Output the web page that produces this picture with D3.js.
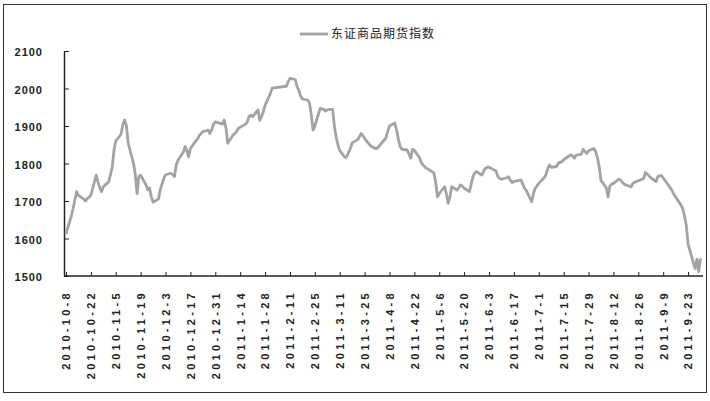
<!DOCTYPE html>
<meta charset="utf-8">
<style>
body { margin: 0; background: #fff; }
svg text { font-family: "Liberation Sans", Arial, sans-serif; fill: #222; }
</style>
<body>
<script src="https://d3js.org/d3.v7.min.js"></script>
<script>

////*Data*////
const seriesName = "东证商品期货指数";

const tradeDates = [
  // 2010-10
  "2010-10-08","2010-10-11","2010-10-12","2010-10-13","2010-10-14","2010-10-15","2010-10-18","2010-10-19","2010-10-20","2010-10-21","2010-10-22","2010-10-25","2010-10-26","2010-10-27","2010-10-28","2010-10-29",
  // 2010-11
  "2010-11-01","2010-11-02","2010-11-03","2010-11-04","2010-11-05","2010-11-08","2010-11-09","2010-11-10","2010-11-11","2010-11-12","2010-11-15","2010-11-16","2010-11-17","2010-11-18","2010-11-19","2010-11-22","2010-11-23","2010-11-24","2010-11-25","2010-11-26","2010-11-29","2010-11-30",
  // 2010-12
  "2010-12-01","2010-12-02","2010-12-03","2010-12-06","2010-12-07","2010-12-08","2010-12-09","2010-12-10","2010-12-13","2010-12-14","2010-12-15","2010-12-16","2010-12-17","2010-12-20","2010-12-21","2010-12-22","2010-12-23","2010-12-24","2010-12-27","2010-12-28","2010-12-29","2010-12-30","2010-12-31",
  // 2011-01
  "2011-01-04","2011-01-05","2011-01-06","2011-01-07","2011-01-10","2011-01-11","2011-01-12","2011-01-13","2011-01-14","2011-01-17","2011-01-18","2011-01-19","2011-01-20","2011-01-21","2011-01-24","2011-01-25","2011-01-26","2011-01-27","2011-01-28","2011-01-31",
  // 2011-02
  "2011-02-01","2011-02-09","2011-02-10","2011-02-11","2011-02-14","2011-02-15","2011-02-16","2011-02-17","2011-02-18","2011-02-21","2011-02-22","2011-02-23","2011-02-24","2011-02-25","2011-02-28",
  // 2011-03
  "2011-03-01","2011-03-02","2011-03-03","2011-03-04","2011-03-07","2011-03-08","2011-03-09","2011-03-10","2011-03-11","2011-03-14","2011-03-15","2011-03-16","2011-03-17","2011-03-18","2011-03-21","2011-03-22","2011-03-23","2011-03-24","2011-03-25","2011-03-28","2011-03-29","2011-03-30","2011-03-31",
  // 2011-04
  "2011-04-01","2011-04-06","2011-04-07","2011-04-08","2011-04-11","2011-04-12","2011-04-13","2011-04-14","2011-04-15","2011-04-18","2011-04-19","2011-04-20","2011-04-21","2011-04-22","2011-04-25","2011-04-26","2011-04-27","2011-04-28","2011-04-29",
  // 2011-05
  "2011-05-03","2011-05-04","2011-05-05","2011-05-06","2011-05-09","2011-05-10","2011-05-11","2011-05-12","2011-05-13","2011-05-16","2011-05-17","2011-05-18","2011-05-19","2011-05-20","2011-05-23","2011-05-24","2011-05-25","2011-05-26","2011-05-27","2011-05-30","2011-05-31",
  // 2011-06
  "2011-06-01","2011-06-02","2011-06-03","2011-06-07","2011-06-08","2011-06-09","2011-06-10","2011-06-13","2011-06-14","2011-06-15","2011-06-16","2011-06-17","2011-06-20","2011-06-21","2011-06-22","2011-06-23","2011-06-24","2011-06-27","2011-06-28","2011-06-29","2011-06-30",
  // 2011-07
  "2011-07-01","2011-07-04","2011-07-05","2011-07-06","2011-07-07","2011-07-08","2011-07-11","2011-07-12","2011-07-13","2011-07-14","2011-07-15","2011-07-18","2011-07-19","2011-07-20","2011-07-21","2011-07-22","2011-07-25","2011-07-26","2011-07-27","2011-07-28","2011-07-29",
  // 2011-08
  "2011-08-01","2011-08-02","2011-08-03","2011-08-04","2011-08-05","2011-08-08","2011-08-09","2011-08-10","2011-08-11","2011-08-12","2011-08-15","2011-08-16","2011-08-17","2011-08-18","2011-08-19","2011-08-22","2011-08-23","2011-08-24","2011-08-25","2011-08-26","2011-08-29","2011-08-30","2011-08-31",
  // 2011-09
  "2011-09-01","2011-09-02","2011-09-05","2011-09-06","2011-09-07","2011-09-08","2011-09-09","2011-09-13","2011-09-14","2011-09-15","2011-09-16","2011-09-19","2011-09-20","2011-09-21","2011-09-22","2011-09-23","2011-09-26","2011-09-27","2011-09-28","2011-09-29","2011-09-30"
];

const indexValues = [
  // 2010-10
  1612,1660,1680,1703,1725,1715,1705,1700,1707,1710,1716,1769,1751,1735,1725,1738,
  // 2010-11
  1751,1770,1790,1836,1860,1878,1905,1916,1900,1854,1800,1770,1720,1765,1769,1743,1730,1735,1711,1697,1705,1729,
  // 2010-12
  1745,1760,1770,1774,1770,1765,1796,1809,1830,1845,1835,1818,1840,1860,1865,1875,1880,1885,1889,1880,1890,1905,1911,
  // 2011-01
  1905,1916,1895,1854,1876,1880,1885,1894,1897,1905,1911,1925,1929,1925,1943,1915,1925,1938,1955,1987,
  // 2011-02
  2001,2006,2018,2027,2024,2005,1995,1980,1972,1969,1961,1930,1889,1900,1947,
  // 2011-03
  1945,1945,1940,1943,1945,1900,1870,1850,1835,1816,1818,1830,1840,1855,1863,1870,1880,1875,1867,1849,1845,1843,1840,
  // 2011-04
  1840,1868,1885,1900,1908,1889,1865,1845,1838,1836,1825,1814,1838,1835,1815,1801,1796,1790,1787,
  // 2011-05
  1775,1750,1711,1720,1738,1720,1694,1710,1738,1729,1735,1743,1740,1734,1725,1745,1765,1775,1778,1769,1780,
  // 2011-06
  1787,1790,1790,1780,1765,1760,1758,1762,1765,1755,1749,1752,1755,1756,1745,1734,1728,1698,1720,1734,1740,
  // 2011-07
  1747,1762,1770,1785,1796,1790,1792,1801,1803,1805,1810,1820,1823,1820,1814,1822,1825,1838,1832,1827,1834,
  // 2011-08
  1840,1832,1815,1792,1755,1735,1711,1740,1745,1747,1758,1756,1750,1745,1743,1738,1747,1750,1752,1754,1760,1776,1772,
  // 2011-09
  1767,1762,1752,1765,1767,1768,1762,1735,1728,1718,1711,1689,1680,1660,1635,1585,1535,1520,1545,1512,1547
];

const yTicks = [1500, 1600, 1700, 1800, 1900, 2000, 2100];

const xTickLabels = ["2010-10-8","2010-10-22","2010-11-5","2010-11-19","2010-12-3","2010-12-17","2010-12-31",
  "2011-1-14","2011-1-28","2011-2-11","2011-2-25","2011-3-11","2011-3-25","2011-4-8","2011-4-22","2011-5-6",
  "2011-5-20","2011-6-3","2011-6-17","2011-7-1","2011-7-15","2011-7-29","2011-8-12","2011-8-26","2011-9-9","2011-9-23"];

////*Set-up*////
const W = 710, H = 401;
const plotLeft = 64, plotRight = 703, plotTop = 51, plotBottom = 276;

const parseDate = d3.timeParse("%Y-%m-%d");
const series = tradeDates.map((d, i) => ({ date: parseDate(d), value: indexValues[i] }));
const tickDates = xTickLabels.map(parseDate);

const xScale = d3.scaleTime()
  .domain([parseDate("2010-10-08"), parseDate("2011-09-30")])
  .range([66, 700.5]);

const yScale = d3.scaleLinear()
  .domain([1500, 2100])
  .range([plotBottom, plotTop]);

const svg = d3.select("body").append("svg")
  .attr("width", W)
  .attr("height", H);

// outer frame
svg.append("rect")
  .attr("x", 3.5).attr("y", 4.5).attr("width", 703).attr("height", 388)
  .attr("fill", "none").attr("stroke", "#333").attr("stroke-width", 1);

////*Axes*////
const yAxis = d3.axisLeft(yScale)
  .tickValues(yTicks)
  .tickSizeInner(-5)
  .tickSizeOuter(0)
  .tickPadding(21)
  .tickFormat(d3.format("d"));

const gy = svg.append("g")
  .attr("transform", `translate(${plotLeft},0)`)
  .call(yAxis);
gy.select(".domain").attr("stroke", "#222").attr("stroke-width", 1.5);
gy.selectAll(".tick line").attr("stroke", "#222");
gy.selectAll(".tick text")
  .attr("dy", "0.45em")
  .style("font-size", "11px")
  .style("letter-spacing", "1px")
  .style("font-weight", "bold")
  .attr("fill", "#222");

const xAxis = d3.axisBottom(xScale)
  .tickValues(tickDates)
  .tickSizeInner(-4)
  .tickSizeOuter(0)
  .tickFormat((d, i) => xTickLabels[i]);

const gx = svg.append("g")
  .attr("transform", `translate(0,${plotBottom})`)
  .call(xAxis);
gx.select(".domain")
  .attr("d", `M${plotLeft},0H${plotRight}`)
  .attr("stroke", "#222").attr("stroke-width", 1.5);
gx.selectAll(".tick line").attr("stroke", "#222");
gx.selectAll(".tick text")
  .attr("transform", "rotate(-90)")
  .attr("x", -14)
  .attr("y", 0)
  .attr("dy", "0.35em")
  .style("text-anchor", "end")
  .style("font-size", "11px")
  .style("letter-spacing", "3.3px")
  .style("font-weight", "bold")
  .attr("fill", "#222");

////*Series line*////
const line = d3.line()
  .x(d => xScale(d.date))
  .y(d => yScale(d.value));

svg.append("path")
  .datum(series)
  .attr("d", line)
  .attr("fill", "none")
  .attr("stroke", "#a3a3a3")
  .attr("stroke-width", 2.8)
  .attr("stroke-linejoin", "round");

////*Legend*////
svg.append("line")
  .attr("x1", 300).attr("x2", 328).attr("y1", 34).attr("y2", 34)
  .attr("stroke", "#a3a3a3").attr("stroke-width", 2.8);

svg.append("text")
  .attr("x", 331).attr("y", 38)
  .style("font-family", "'Noto Sans CJK SC', sans-serif")
  .style("font-size", "12px")
  .style("letter-spacing", "1px")
  .text(seriesName);

</script>
</body>
